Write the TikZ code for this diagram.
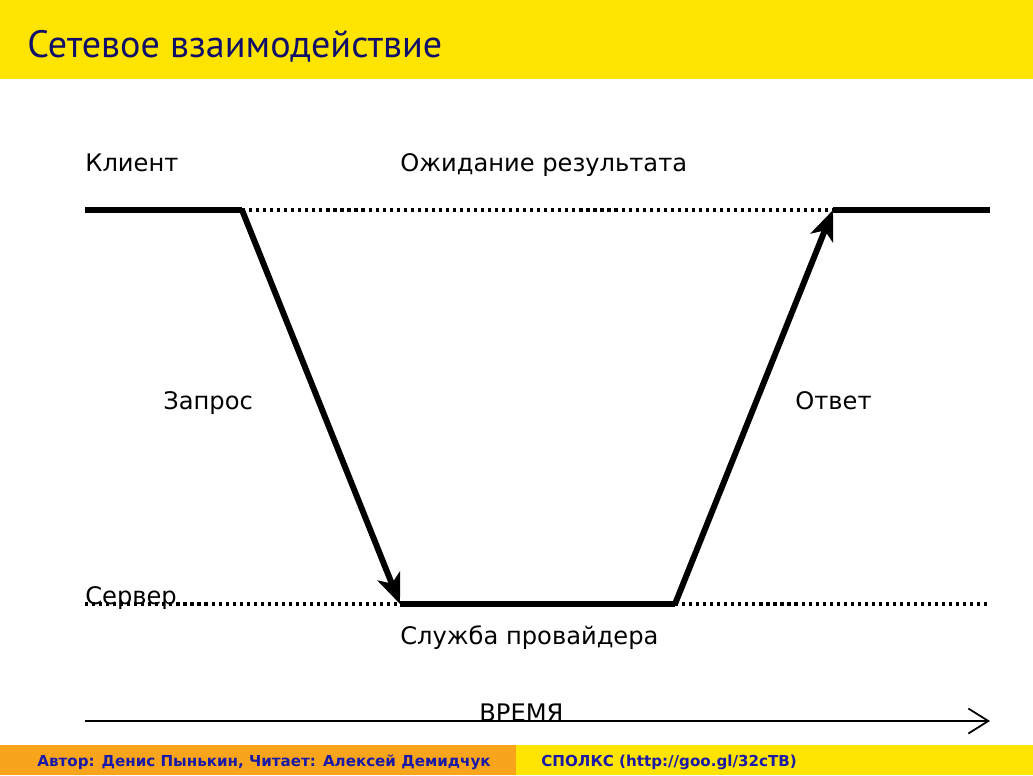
\documentclass[tikz,border=0pt]{standalone}
\usepackage{fontspec}
\setmainfont{DejaVu Sans}
\newfontfamily\titlefont{PT Sans}
\usetikzlibrary{arrows.meta, positioning}
\definecolor{barYellow}{HTML}{FFE400}
\definecolor{barOrange}{HTML}{F8A51B}
\definecolor{titleBlue}{HTML}{10106A}
\definecolor{footBlue}{HTML}{1A1AA6}

\begin{document}
\begin{tikzpicture}[x=0.02cm, y=-0.02cm,
  label/.style={anchor=base west, inner sep=0pt, font=\fontsize{13.75}{16}\selectfont},
  busy/.style={line width=3.4pt},
  idle/.style={line width=1.8pt, dash pattern=on 1.8pt off 2.2pt},
  msg/.style={line width=3.4pt, -{Stealth[length=6mm,width=4.8mm,inset=1.6mm]}},
  foot/.style={anchor=base west, inner sep=0pt, text=footBlue,
               font=\fontsize{8.6}{10}\selectfont\bfseries}]
  \useasboundingbox (0,0) rectangle (1033,775);
  % title bar and footer
  \fill[barYellow] (0,0) rectangle (1033,79);
  \node[anchor=base west, inner sep=0pt, text=titleBlue,
        font=\titlefont\fontsize{21.7}{24}\selectfont] (title) at (27,57)
        {Сетевое взаимодействие};
  \fill[barOrange] (0,745) rectangle (516,775);
  \fill[barYellow] (516,745) rectangle (1033,775);
  \node[foot] (author) at (37,766) {Автор: Денис Пынькин, Читает: Алексей Демидчук};
  \node[foot] (course) at (541,766) {СПОЛКС (http://goo.gl/32cTB)};

  % time lines
  \coordinate (c0) at (85,210);  \coordinate (c1) at (242,210);
  \coordinate (c2) at (833,210); \coordinate (c3) at (990,210);
  \coordinate (s0) at (85,604);  \coordinate (s1) at (400,604);
  \coordinate (s2) at (675,604); \coordinate (s3) at (990,604);
  \draw[busy] (c0) -- (c1);
  \draw[idle] (c1) -- (c2);
  \draw[busy] (c2) -- (c3);
  \draw[idle] (s0) -- (s1);
  \draw[busy] (s1) -- (s2);
  \draw[idle] (s2) -- (s3);
  \draw[msg] (c1) -- (s1);
  \draw[msg] (s2) -- (c2);

  \node[label] (client) at (85,171)  {Клиент};
  \node[label] (wait)   at (400,171) {Ожидание результата};
  \node[label] (req)    at (163,409) {Запрос};
  \node[label] (resp)   at (795,409) {Ответ};
  \node[label] (server) at (85,604)  {Сервер};
  \node[label] (svc)    at (400,644) {Служба провайдера};

  % time axis
  \coordinate (t0) at (85,721);
  \coordinate (t1) at (990,721);
  \draw[line width=1.2pt, -{Straight Barb[length=4mm,width=5mm,line width=1pt]}] (t0) -- (t1);
  \node[label] (time) at (479,721) {ВРЕМЯ};
\end{tikzpicture}
\end{document}
